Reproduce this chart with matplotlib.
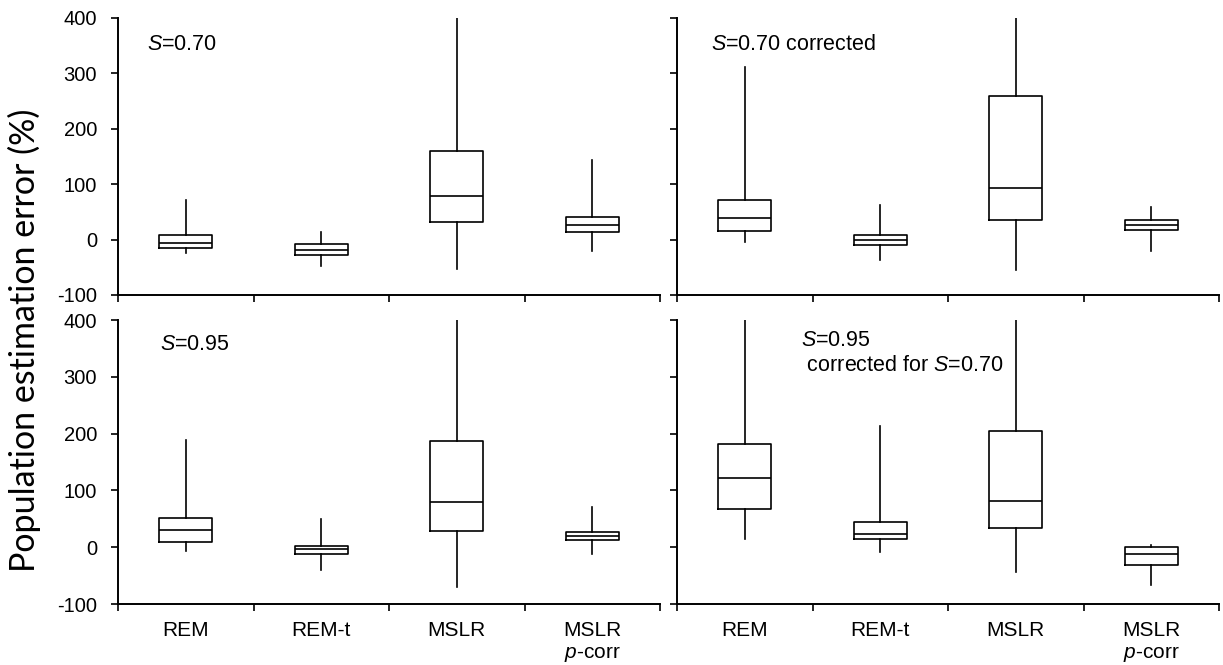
import matplotlib
matplotlib.use("Agg")
import matplotlib.pyplot as plt

plt.rcParams['font.family'] = ['Liberation Sans', 'DejaVu Sans']
plt.rcParams['axes.unicode_minus'] = False
plt.rcParams['mathtext.fontset'] = 'custom'
plt.rcParams['mathtext.rm'] = 'Liberation Sans'
plt.rcParams['mathtext.it'] = 'Liberation Sans:italic'

categories = ["REM", "REM-t", "MSLR", "MSLR\n$p$-corr"]
y_ticks = [-100, 0, 100, 200, 300, 400]

# each panel: [whislo, q1, med, q3, whishi] per category
s070 = {
    "whislo": [-24, -47, -53, -21],
    "q1":     [-16, -27, 32, 14],
    "med":    [-6, -18, 78, 26],
    "q3":     [8, -8, 160, 41],
    "whishi": [72, 14, 400, 144],
}
s070_corr = {
    "whislo": [-4, -36, -54, -20],
    "q1":     [15, -9, 36, 17],
    "med":    [39, 0, 93, 26],
    "q3":     [72, 9, 260, 36],
    "whishi": [311, 63, 400, 58],
}
s095 = {
    "whislo": [-6, -41, -70, -12],
    "q1":     [10, -12, 28, 13],
    "med":    [30, -4, 80, 20],
    "q3":     [51, 2, 187, 26],
    "whishi": [188, 49, 400, 71],
}
s095_corr = {
    "whislo": [14, -8, -44, -66],
    "q1":     [68, 14, 33, -31],
    "med":    [121, 23, 81, -12],
    "q3":     [182, 45, 205, 0],
    "whishi": [400, 214, 400, 3],
}
panel_labels = ["$S$=0.70", "$S$=0.70 corrected", "$S$=0.95",
                "$S$=0.95\n corrected for $S$=0.70"]

W, H = 1223, 665
fig = plt.figure(figsize=(W / 100, H / 100), dpi=100)

def rect(x0, x1, ytop, ybot):
    return [x0 / W, 1 - ybot / H, (x1 - x0) / W, (ybot - ytop) / H]

rects = [rect(118, 660, 18, 295), rect(677, 1219, 18, 295),
         rect(118, 660, 320, 604), rect(677, 1219, 320, 604)]
data = [s070, s070_corr, s095, s095_corr]
lw = 1.2

axes = []
for i, (r, d) in enumerate(zip(rects, data)):
    ax = fig.add_axes(r)
    stats = []
    for j in range(len(categories)):
        stats.append(dict(whislo=d["whislo"][j], q1=d["q1"][j], med=d["med"][j],
                          q3=d["q3"][j], whishi=d["whishi"][j], fliers=[]))
    ax.bxp(stats, positions=[1, 2, 3, 4], widths=0.39, showcaps=False,
           showfliers=False,
           boxprops=dict(color="black", linewidth=lw),
           medianprops=dict(color="black", linewidth=lw),
           whiskerprops=dict(color="black", linewidth=lw))
    ax.set_xlim(0.5, 4.5)
    ax.set_ylim(-100, 400)
    for s in ["top", "right"]:
        ax.spines[s].set_visible(False)
    for s in ["left", "bottom"]:
        ax.spines[s].set_linewidth(1.4)
    ax.set_yticks(y_ticks)
    ax.set_xticks([0.5, 1.5, 2.5, 3.5, 4.5])
    ax.set_xticks([1, 2, 3, 4], minor=True)
    ax.tick_params(axis="both", which="major", direction="out", length=5,
                   width=1.2, labelsize=14.5, pad=10)
    ax.tick_params(axis="x", which="major", labelbottom=False)
    ax.tick_params(axis="x", which="minor", length=0, labelsize=15, pad=12)
    if i >= 2:
        ax.set_xticklabels(categories, minor=True, linespacing=1.2, va="top")
    else:
        ax.set_xticklabels([], minor=True)
    if i % 2 == 1:
        ax.tick_params(axis="y", labelleft=False)
    ax.patch.set_alpha(0)
    axes.append(ax)

def ftext(px, py, s, **kw):
    fig.text(px / W, 1 - py / H, s, fontsize=15.5, va="center", ha="left", **kw)

ftext(147, 44, panel_labels[0])
ftext(711, 44, panel_labels[1])
ftext(160, 345, panel_labels[2])
ftext(801, 353, panel_labels[3], linespacing=1.3)

fig.text(24 / W, 1 - 340 / H, "Population estimation error (%)", rotation=90,
         fontsize=24.5, va="center", ha="center", family="Lato")

fig.savefig("out.png", dpi=100)
